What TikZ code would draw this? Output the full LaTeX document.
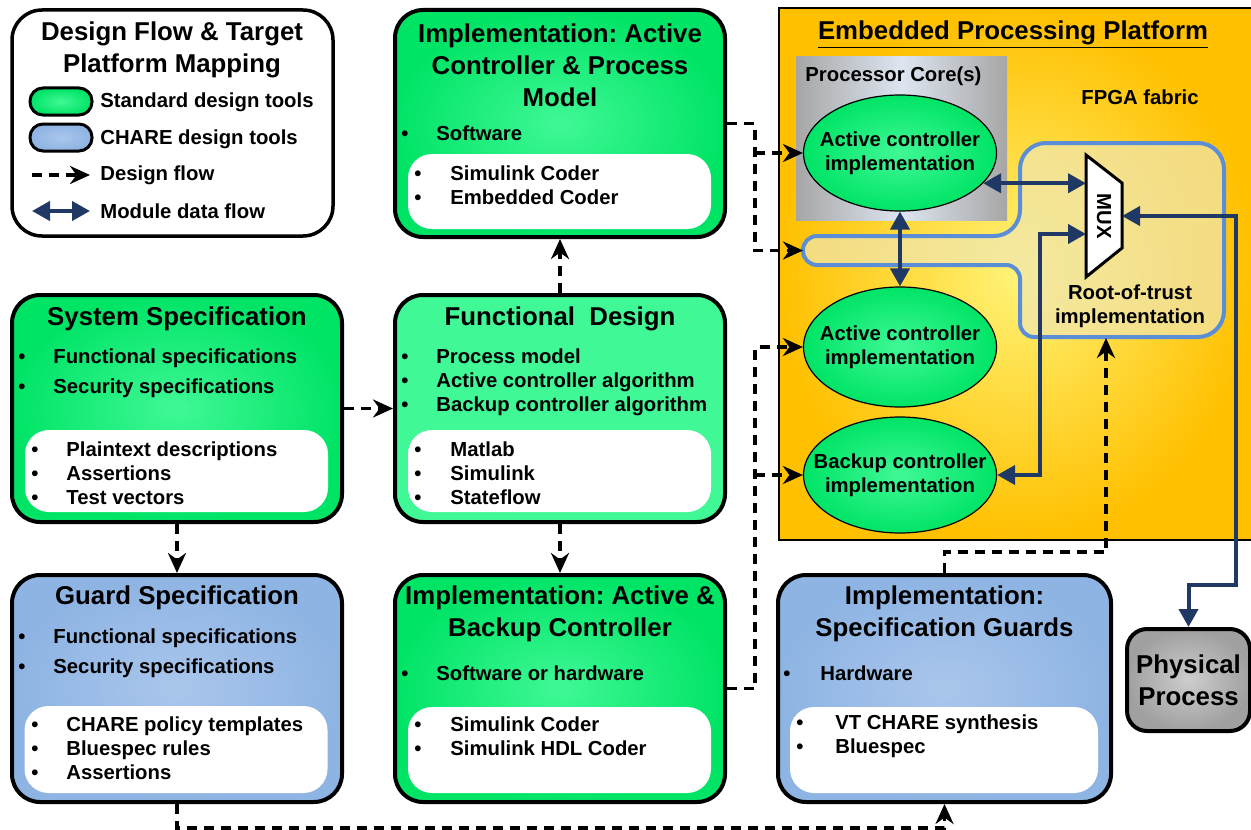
\documentclass[tikz,border=0pt]{standalone}
\usepackage{fontspec}
\setmainfont{Liberation Sans}
\usetikzlibrary{shapes.geometric,arrows.meta}
\frenchspacing

\definecolor{grnin}{RGB}{64,248,150}
\definecolor{grnout}{RGB}{0,228,102}
\definecolor{bluin}{RGB}{170,198,236}
\definecolor{bluout}{RGB}{142,180,227}
\definecolor{orgin}{RGB}{255,243,120}
\definecolor{orgout}{RGB}{255,192,0}
\definecolor{coregrey}{RGB}{166,166,166}
\definecolor{corelight}{RGB}{221,229,240}
\definecolor{phin}{RGB}{205,205,205}
\definecolor{phout}{RGB}{160,160,160}
\definecolor{navy}{RGB}{31,56,100}
\definecolor{rotblue}{RGB}{91,142,214}
\definecolor{rotfill}{RGB}{240,230,178}

\newcommand{\ttl}{\fontsize{12.9pt}{16pt}\selectfont\bfseries}
\newcommand{\bdy}{\fontsize{10.15pt}{12pt}\selectfont\bfseries}
\newcommand{\itm}[2][17.5pt]{\makebox[#1][l]{\textbullet}#2}

\begin{document}
\begin{tikzpicture}[x=0.5pt, y=-0.5pt,
  every node/.style={inner sep=0pt, font=\bdy},
  gbox/.style={draw, line width=2pt, rounded corners=14pt, inner color=grnin, outer color=grnout, minimum width=165pt, minimum height=113.5pt},
  fbox/.style={draw, line width=2pt, rounded corners=14pt, fill=grnin, minimum width=165pt, minimum height=113.5pt},
  bbox/.style={draw, line width=2pt, rounded corners=14pt, inner color=bluin, outer color=bluout, minimum width=165pt, minimum height=113.5pt},
  wbox/.style={fill=white, rounded corners=12pt, minimum width=151.5pt, minimum height=41pt},
  pill/.style={draw, line width=1.5pt, rounded corners=6.5pt, minimum width=31pt, minimum height=13.5pt},
  impl/.style={ellipse, draw, line width=0.6pt, inner color=grnin, outer color=grnout, minimum width=96.5pt, minimum height=58pt},
  flow/.style={line width=1.75pt, dash pattern=on 5pt off 3.5pt, -{Stealth[length=10pt,width=9pt]}},
  data/.style={line width=2pt, color=navy, {Triangle[length=9pt,width=9.5pt]}-{Triangle[length=9pt,width=9.5pt]}}]
  \useasboundingbox (0,0) rectangle (1251,829);

  % legend
  \node[draw, line width=1.75pt, rounded corners=15pt, fill=white, minimum width=160.5pt, minimum height=113pt] (legend) at (172.5,123) {};
  \node[font=\ttl, align=center] (legend-t) at (172,49.5) {Design Flow \& Target\\Platform Mapping};
  \node[pill, inner color=grnin, outer color=grnout] (lg-std) at (61,101.5) {};
  \node[pill, inner color=bluin, outer color=bluout] (lg-chare) at (61,137.5) {};
  \node[anchor=west] (lg-std-t) at (100,102) {Standard design tools};
  \node[anchor=west] (lg-chare-t) at (100,139) {CHARE design tools};
  \node[anchor=west] (lg-flow-t) at (100,175) {Design flow};
  \node[anchor=west] (lg-data-t) at (100,211) {Module data flow};
  \coordinate (lg-fa) at (32,175); \coordinate (lg-fb) at (90,175);
  \coordinate (lg-da) at (32,211); \coordinate (lg-db) at (90,211);
  \draw[flow] (lg-fa) -- (lg-fb);
  \draw[data] (lg-da) -- (lg-db);

  % design flow boxes
  \node[gbox] (sysspec) at (177,408.5) {};
  \node[font=\ttl] (sysspec-t) at (177,319) {System Specification};
  \node[anchor=west, align=left] (sysspec-a) at (18,373) {\itm{Functional specifications}\\[3pt]\itm{Security specifications}};
  \node[wbox] (sysspec-w) at (176.5,471) {};
  \node[anchor=west, align=left] (sysspec-b) at (31,473) {\itm{Plaintext descriptions}\\\itm{Assertions}\\\itm{Test vectors}};

  \node[bbox] (guardspec) at (177,688.5) {};
  \node[font=\ttl] (guardspec-t) at (177,598) {Guard Specification};
  \node[anchor=west, align=left] (guardspec-a) at (18,653) {\itm{Functional specifications}\\[3pt]\itm{Security specifications}};
  \node[wbox, minimum height=43.5pt] (guardspec-w) at (176,749.5) {};
  \node[anchor=west, align=left] (guardspec-b) at (31,748.5) {\itm{CHARE policy templates}\\\itm{Bluespec rules}\\\itm{Assertions}};

  \node[fbox] (funcdes) at (560,408.5) {};
  \node[font=\ttl] (funcdes-t) at (560,319) {Functional\ \ Design};
  \node[anchor=west, align=left] (funcdes-a) at (401,382.5) {\itm{Process model}\\\itm{Active controller algorithm}\\\itm{Backup controller algorithm}};
  \node[wbox] (funcdes-w) at (559.5,471) {};
  \node[anchor=west, align=left] (funcdes-b) at (414,473) {\itm[18pt]{Matlab}\\\itm[18pt]{Simulink}\\\itm[18pt]{Stateflow}};

  \node[gbox] (implactive) at (560,123.5) {};
  \node[font=\ttl, align=center] (implactive-t) at (560,65) {Implementation: Active\\Controller \& Process\\Model};
  \node[anchor=west] (implactive-a) at (401,133) {\itm{Software}};
  \node[wbox, minimum height=37.5pt] (implactive-w) at (559.5,191.5) {};
  \node[anchor=west, align=left] (implactive-b) at (414,185.5) {\itm[18pt]{Simulink Coder}\\\itm[18pt]{Embedded Coder}};

  \node[gbox] (implab) at (560,688.5) {};
  \node[font=\ttl, align=center] (implab-t) at (560,614) {Implementation: Active \&\\Backup Controller};
  \node[anchor=west] (implab-a) at (401,673) {\itm{Software or hardware}};
  \node[wbox, minimum height=43pt] (implab-w) at (559.5,750) {};
  \node[anchor=west, align=left] (implab-b) at (414,736.5) {\itm[18pt]{Simulink Coder}\\\itm[18pt]{Simulink HDL Coder}};

  \node[bbox, minimum width=166.5pt] (implguard) at (944.5,688.5) {};
  \node[font=\ttl, align=center] (implguard-t) at (944.5,614) {Implementation:\\Specification Guards};
  \node[anchor=west] (implguard-a) at (783,673) {\itm[18.5pt]{Hardware}};
  \node[wbox, minimum width=154pt, minimum height=43pt] (implguard-w) at (944,750) {};
  \node[anchor=west, align=left] (implguard-b) at (796,736.5) {\itm[19.5pt]{VT CHARE synthesis}\\\itm[19.5pt]{Bluespec}};

  \node[draw, line width=2pt, rounded corners=10pt, inner color=phin, outer color=phout, minimum width=61.5pt, minimum height=51pt, font=\ttl, align=center] (phys) at (1188.5,680) {Physical\\Process};

  % embedded processing platform
  \draw[line width=0.6pt, inner color=orgin, outer color=orgout] (779,8) rectangle (1253,540);
  \node[font=\ttl] (plat-t) at (1013,35) {\underline{Embedded Processing Platform}};
  \fill[left color=coregrey, right color=coregrey, middle color=corelight] (796,57) rectangle (1007,220);
  \node[anchor=west] (core-t) at (805,76) {Processor Core(s)};
  \node (fpga-t) at (1140,97) {FPGA fabric};
  \draw[line width=2pt, draw=rotblue, fill=rotfill, fill opacity=0.7, draw opacity=1]
    (1120,143) [rounded corners=13pt] -- (1020,143) -- (1020,236) [rounded corners=7pt] -- (803,236) -- (803,265) -- (1020,265) -- (1020,337) [rounded corners=13pt] -- (1224,337) -- (1224,143) -- cycle;
  \node[align=center] (rot-t) at (1130,306.5) {Root-of-trust\\implementation};

  \node[impl, label={[align=center]center:Active controller\\implementation}] (ell1) at (900,153) {};
  \node[impl, minimum height=60pt, label={[align=center]center:Active controller\\implementation}] (ell2) at (900,347) {};
  \node[impl, label={[align=center]center:Backup controller\\implementation}] (ell3) at (900,475) {};

  \draw[line width=1.5pt, fill=white] (1086,155) -- (1122,183) -- (1122,248) -- (1086,277) -- cycle;
  \node[rotate=-90] (mux) at (1104,216) {MUX};
  \coordinate (mA) at (1086,183); \coordinate (mB) at (1086,234); \coordinate (mC) at (1122,216);

  % design flow
  \coordinate (jA) at (755,123.5); \coordinate (jB) at (755,688.5);
  \coordinate (rotin) at (803,250.5); \coordinate (rotout) at (1106,338);
  \draw[flow] (sysspec) -- (funcdes);
  \draw[flow] (sysspec) -- (guardspec);
  \draw[flow] (funcdes) -- (implab);
  \draw[flow] (funcdes) -- (implactive);
  \draw[flow] (implactive.east) -- (jA) |- (rotin);
  \draw[flow] (jA |- ell1.west) -- (ell1.west);
  \draw[flow] (implab.east) -- (jB) |- (ell2.west);
  \draw[flow] (jB |- ell3.west) -- (ell3.west);
  \draw[flow] (guardspec.south) -- ++(0,24) -| (implguard.south);
  \draw[flow] (implguard.north) -- ++(0,-21) -| (rotout);

  % module data flow
  \draw[data] (ell1.-20) -- (ell1.-20 -| mA);
  \draw[data] (ell1.south) -- (ell2.north);
  \draw[data] (ell3.east) -- ++(43,0) |- (mB);
  \draw[data] (mC) -- ++(114,0) -- ++(0,369) -| (phys.north);
\end{tikzpicture}
\end{document}
